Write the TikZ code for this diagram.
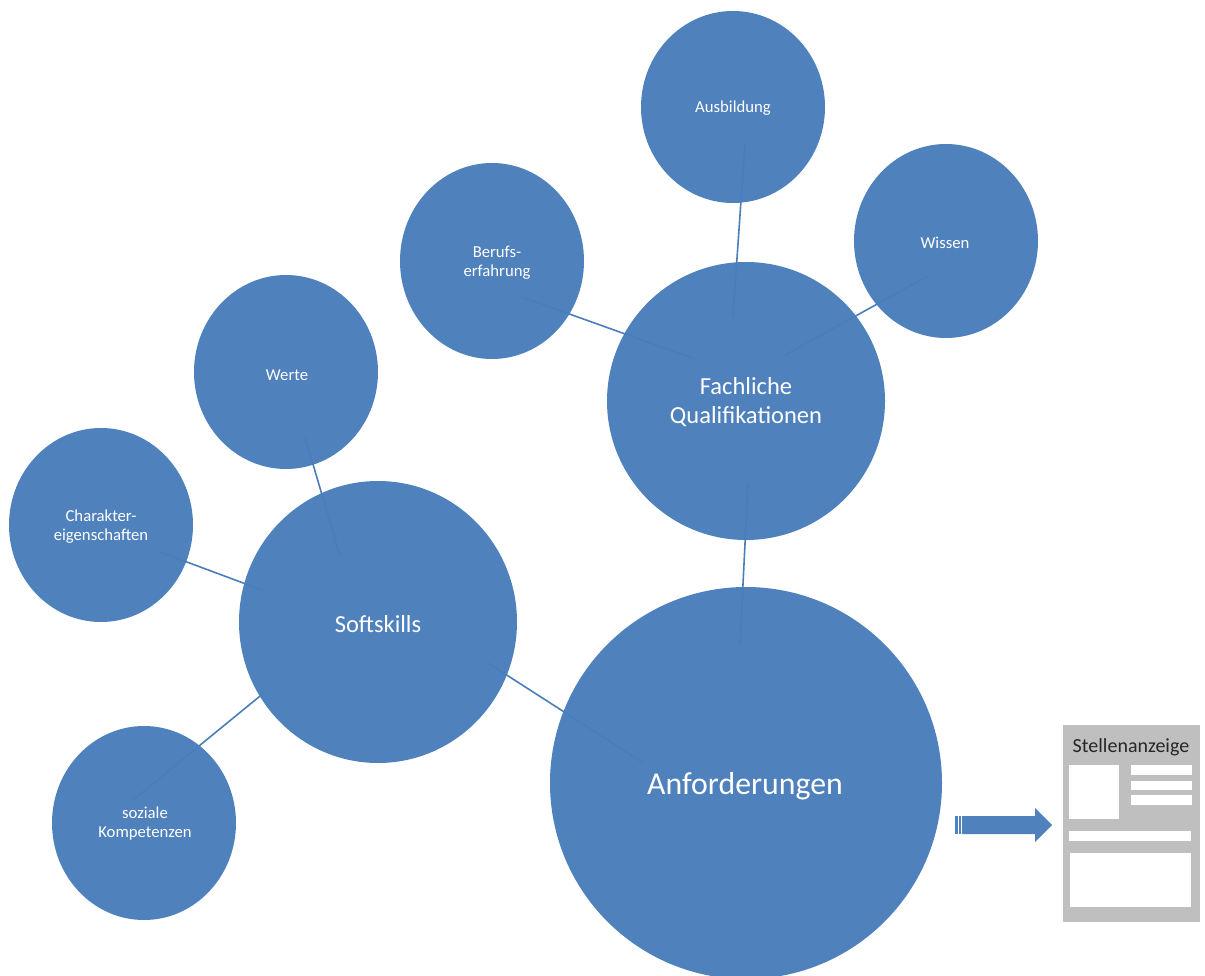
\documentclass[tikz,border=0pt]{standalone}
\usepackage{fontspec}
\setmainfont{Carlito}
\definecolor{bub}{HTML}{4F81BD}
\definecolor{con}{HTML}{4A7EBB}
\definecolor{adgray}{HTML}{BFBFBF}
\begin{document}
\begin{tikzpicture}[x=1pt,y=-1pt,
  bubble/.style={fill=bub,draw=none},
  lab/.style={text=white,align=center,inner sep=0pt},
  small/.style={lab,font=\fontsize{16.7}{19}\selectfont},
  mid/.style={lab,font=\fontsize{24.5}{29}\selectfont},
  big/.style={lab,font=\fontsize{31.8}{36}\selectfont},
  link/.style={draw=con,line width=1.6pt},
  wbox/.style={fill=white,draw=none}]
\useasboundingbox (0,0) rectangle (1205,976);
% bubbles
\fill[bubble] (733,107) ellipse [x radius=92,y radius=96];
\fill[bubble] (946,241) ellipse [x radius=92,y radius=97];
\fill[bubble] (492,261) ellipse [x radius=92,y radius=98];
\fill[bubble] (746,401) ellipse [x radius=139,y radius=139];
\fill[bubble] (286,372) ellipse [x radius=92,y radius=97];
\fill[bubble] (101,525) ellipse [x radius=92,y radius=97];
\fill[bubble] (378,622) ellipse [x radius=139,y radius=141];
\fill[bubble] (144,823) ellipse [x radius=92,y radius=97];
\fill[bubble] (746,783) ellipse [x radius=196,y radius=196];
% connector end points
\coordinate (ausA) at (745,143);
\coordinate (ausB) at (733,316);
\coordinate (wisA) at (928,276);
\coordinate (wisB) at (785,355);
\coordinate (berA) at (522,297);
\coordinate (berB) at (692,358);
\coordinate (fqA) at (748,483);
\coordinate (fqB) at (740,645);
\coordinate (werA) at (305,437);
\coordinate (werB) at (340,556);
\coordinate (chaA) at (160,552);
\coordinate (chaB) at (262,590);
\coordinate (sozA) at (133,800);
\coordinate (sozB) at (265,692);
\coordinate (sofA) at (488,663);
\coordinate (sofB) at (642,762);
\draw[link] (ausA) -- (ausB);
\draw[link] (wisA) -- (wisB);
\draw[link] (berA) -- (berB);
\draw[link] (fqA) -- (fqB);
\draw[link] (werA) -- (werB);
\draw[link] (chaA) -- (chaB);
\draw[link] (sozA) -- (sozB);
\draw[link] (sofA) -- (sofB);
% labels
\node[small] (aus) at (733,108) {Ausbildung};
\node[small] (wis) at (945,243) {Wissen};
\node[small] (ber) at (497,263) {Berufs-\\erfahrung};
\node[small] (wer) at (287,375) {Werte};
\node[small] (cha) at (101,527) {Charakter-\\eigenschaften};
\node[small] (soz) at (145,824) {soziale\\Kompetenzen};
\node[mid] (fq) at (746,402) {Fachliche\\Qualifikationen};
\node[mid] (sof) at (378,624) {Softskills};
\node[big] (anf) at (745,786) {Anforderungen};
% striped arrow
\fill[bub] (955,816) rectangle (957.5,834);
\fill[bub] (959,816) rectangle (960.5,834);
\fill[bub] (962,816) -- (1035,816) -- (1035,808) -- (1052,825) -- (1035,842) -- (1035,834) -- (962,834) -- cycle;
% Stellenanzeige
\fill[adgray] (1063,725) rectangle (1200,922);
\node[font=\fontsize{20}{22}\selectfont,text=black!85,inner sep=0pt] (st) at (1131,747) {Stellenanzeige};
\fill[wbox] (1069,765) rectangle (1119,819);
\fill[wbox] (1131,765) rectangle (1192,775);
\fill[wbox] (1131,781) rectangle (1192,790);
\fill[wbox] (1131,795) rectangle (1192,805);
\fill[wbox] (1069,831) rectangle (1191,841);
\fill[wbox] (1070,853) rectangle (1191,907);
\end{tikzpicture}
\end{document}
